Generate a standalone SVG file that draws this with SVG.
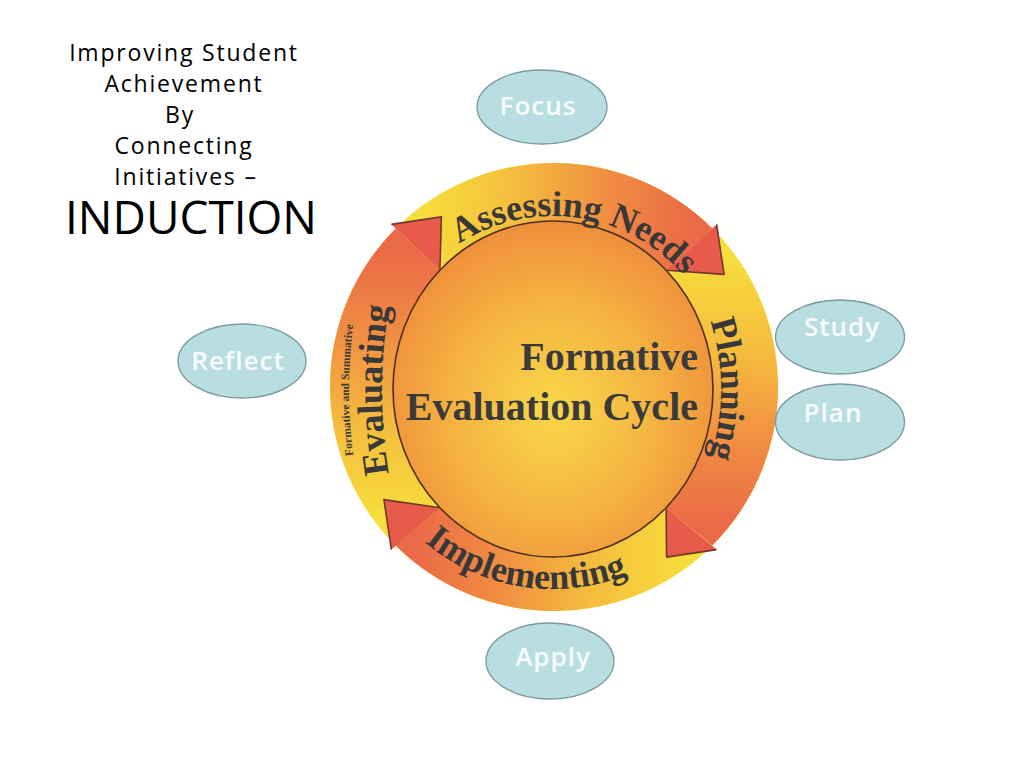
<svg xmlns="http://www.w3.org/2000/svg" xmlns:xlink="http://www.w3.org/1999/xlink" width="1024" height="768" viewBox="0 0 1024 768">
<style>
.title{font-family:"Open Sans","DejaVu Sans",sans-serif;font-size:23px;letter-spacing:1.8px;fill:#000;text-anchor:middle}
.big{font-family:"Open Sans","DejaVu Sans",sans-serif;font-size:46px;fill:#000;text-anchor:middle}
.oval{fill:#B8DEE2;stroke:#7B9A9E;stroke-width:1.3}
.ovtxt{font-family:"Open Sans","DejaVu Sans",sans-serif;font-size:26px;font-weight:600;letter-spacing:1px;fill:#F8FCFC;text-anchor:middle}
.ring{font-family:"Liberation Serif","Times New Roman",serif;font-weight:bold;font-size:36px;fill:#383838}
.small{font-family:"Liberation Serif","Times New Roman",serif;font-weight:bold;font-size:11.5px;fill:#383838}
.center{font-family:"Liberation Serif","Times New Roman",serif;font-weight:bold;font-size:40px;fill:#3a3a3a;text-anchor:end}
.head{fill:#E85A4A}
.edge{fill:none;stroke:#6E3A2C;stroke-width:1.6;stroke-linejoin:round}
</style>
<defs>
<radialGradient id="gDisk" cx="0.5" cy="0.5" r="0.5">
<stop offset="0" stop-color="#F6D23C"/>
<stop offset="1" stop-color="#F8E63C"/>
</radialGradient>
<radialGradient id="gInner" cx="0.5" cy="0.56" r="0.56">
<stop offset="0" stop-color="#F8D848"/>
<stop offset="0.55" stop-color="#F5B442"/>
<stop offset="1" stop-color="#EF8E3C"/>
</radialGradient>
<linearGradient id="gA" gradientUnits="userSpaceOnUse" x1="421.2" y1="246.1" x2="690.7" y2="250.8">
<stop offset="0" stop-color="#F6DE3C"/><stop offset="0.35" stop-color="#F5BC3E"/><stop offset="0.7" stop-color="#F08C42"/><stop offset="1" stop-color="#EA6A47"/>
</linearGradient>
<linearGradient id="gP" gradientUnits="userSpaceOnUse" x1="695.4" y1="255.7" x2="690.7" y2="525.2">
<stop offset="0" stop-color="#F6DE3C"/><stop offset="0.35" stop-color="#F5BC3E"/><stop offset="0.7" stop-color="#F08C42"/><stop offset="1" stop-color="#EA6A47"/>
</linearGradient>
<linearGradient id="gI" gradientUnits="userSpaceOnUse" x1="685.8" y1="529.9" x2="416.3" y2="525.2">
<stop offset="0" stop-color="#F6DE3C"/><stop offset="0.35" stop-color="#F5BC3E"/><stop offset="0.7" stop-color="#F08C42"/><stop offset="1" stop-color="#EA6A47"/>
</linearGradient>
<linearGradient id="gE" gradientUnits="userSpaceOnUse" x1="411.6" y1="520.3" x2="416.3" y2="250.8">
<stop offset="0" stop-color="#F6DE3C"/><stop offset="0.35" stop-color="#F5BC3E"/><stop offset="0.7" stop-color="#F08C42"/><stop offset="1" stop-color="#EA6A47"/>
</linearGradient>
<path id="pA" d="M388.5 335.5 A173 173 0 0 1 725.9 383.0"/>
<path id="pP" d="M610.5 197.6 A221 221 0 0 1 610.5 580.4"/>
<path id="pE" d="M428.8 601.3 A500 500 0 0 1 428.8 178.7"/>
<path id="pS" d="M395.8 601.3 A500 500 0 0 1 395.8 178.7"/>
<path id="pI" d="M353 389 A200 200 0 0 0 743.2 450.8"/>
</defs>
<rect width="1024" height="768" fill="#FFFFFF"/>

<g id="title">
<text class="title" x="184" y="61">Improving Student</text>
<text class="title" x="184" y="92">Achievement</text>
<text class="title" x="180" y="123">By</text>
<text class="title" x="184" y="154">Connecting</text>
<text class="title" x="186" y="185">Initiatives –</text>
<text class="big" x="191" y="234">INDUCTION</text>
</g>

<g id="cycle">
<circle cx="554" cy="387" r="224" fill="url(#gDisk)"/>
<path d="M401.23 223.18 A224 224 0 0 1 712.39 228.61 L666.14 270.21 A160 168 0 0 0 443.88 266.13 Z" fill="url(#gA)"/>
<path d="M717.82 234.23 A224 224 0 0 1 712.39 545.39 L666.14 507.79 A160 168 0 0 0 670.02 274.42 Z" fill="url(#gP)"/>
<path d="M706.77 550.82 A224 224 0 0 1 395.61 545.39 L439.86 507.79 A160 168 0 0 0 662.12 511.87 Z" fill="url(#gI)"/>
<path d="M390.18 539.77 A224 224 0 0 1 395.61 228.61 L439.86 270.21 A160 168 0 0 0 435.98 503.58 Z" fill="url(#gE)"/>
<ellipse cx="553" cy="389" rx="160" ry="168" fill="url(#gInner)" stroke="#4A2F22" stroke-width="1.6"/>
<polygon class="head" points="716.6,224.4 724.1,274.4 666.1,270.2"/>
<polyline class="edge" points="716.6,224.4 724.1,274.4 666.1,270.2"/>
<polygon class="head" points="716.6,549.6 666.6,557.1 666.1,507.8"/>
<polyline class="edge" points="716.6,549.6 666.6,557.1 666.1,507.8"/>
<polygon class="head" points="391.4,549.6 383.9,499.6 439.9,507.8"/>
<polyline class="edge" points="391.4,549.6 383.9,499.6 439.9,507.8"/>
<polygon class="head" points="391.4,224.4 441.4,216.9 439.9,270.2"/>
<polyline class="edge" points="391.4,224.4 441.4,216.9 439.9,270.2"/>
<text class="ring"><textPath xlink:href="#pA" href="#pA" startOffset="50%" text-anchor="middle">Assessing Needs</textPath></text>
<text class="ring"><textPath xlink:href="#pP" href="#pP" startOffset="50%" text-anchor="middle">Planning</textPath></text>
<text class="ring"><textPath xlink:href="#pI" href="#pI" startOffset="50%" text-anchor="middle">Implementing</textPath></text>
<text class="ring"><textPath xlink:href="#pE" href="#pE" startOffset="50%" text-anchor="middle">Evaluating</textPath></text>
<text class="small"><textPath xlink:href="#pS" href="#pS" startOffset="50%" text-anchor="middle">Formative and Summative</textPath></text>
<text class="center" x="698" y="370">Formative</text>
<text class="center" x="698" y="420">Evaluation Cycle</text>
</g>

<g id="focus">
<ellipse class="oval" cx="542" cy="107" rx="65" ry="37"/>
<text class="ovtxt" x="538" y="115">Focus</text>
</g>
<g id="study">
<ellipse class="oval" cx="840" cy="337" rx="64.5" ry="37"/>
<text class="ovtxt" x="842" y="336">Study</text>
</g>
<g id="plan">
<ellipse class="oval" cx="840" cy="422" rx="64.5" ry="38"/>
<text class="ovtxt" x="833" y="422">Plan</text>
</g>
<g id="reflect">
<ellipse class="oval" cx="242" cy="361" rx="64" ry="37"/>
<text class="ovtxt" x="238" y="370">Reflect</text>
</g>
<g id="apply">
<ellipse class="oval" cx="550" cy="661" rx="64" ry="38"/>
<text class="ovtxt" x="553" y="666">Apply</text>
</g>
<g id="connectors"/>
</svg>
